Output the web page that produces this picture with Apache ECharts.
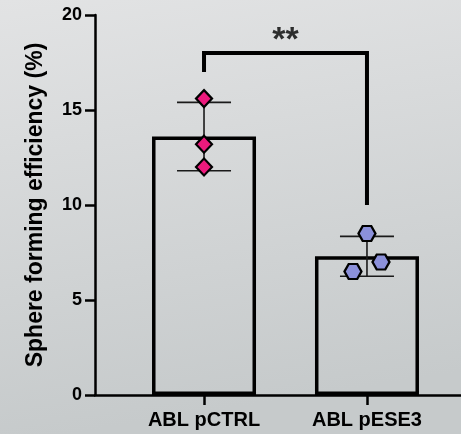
<!DOCTYPE html>
<html>
<head>
<meta charset="utf-8">
<script src="https://cdn.jsdelivr.net/npm/echarts@6/dist/echarts.min.js"></script>
<style>
  html, body { margin: 0; padding: 0; }
  #chart { width: 461px; height: 434px; }
</style>
</head>
<body>
<div id="chart"></div>
<script>
// ---- data ----
const categories = ['ABL pCTRL', 'ABL pESE3'];
const barMeans = [13.6, 7.3];
const barSD = [1.8, 1.05];
const pointsCTRL = [15.6, 13.2, 12.0];
const pointsESE3 = [8.5, 7.0, 6.5];
const yTicks = [0, 5, 10, 15, 20];
const sigLabel = '**';
const sigBracketY = 18;      // top of bracket (data units)
const sigLeftEnd = 17;       // left leg end
const sigRightEnd = 10;      // right leg end

// ---- build ----
const FONT = 'Liberation Sans, Arial, sans-serif';
const jitterESE3 = [0, 0.086, -0.086];

const chart = echarts.init(document.getElementById('chart'), null, { renderer: 'canvas' });

const hexPath = 'path://M0,50 L25,6 L75,6 L100,50 L75,94 L25,94 Z';

const option = {
  backgroundColor: {
    type: 'linear', x: 0, y: 0, x2: 0.15, y2: 1,
    colorStops: [
      { offset: 0, color: '#e2e3e4' },
      { offset: 1, color: '#c6cacb' }
    ]
  },
  animation: false,
  grid: { left: 95, right: 0, top: 15, bottom: 39, containLabel: false },
  xAxis: {
    type: 'value',
    min: -0.669,
    max: 1.577,
    splitLine: { show: false },
    axisLine: { show: true, onZero: false, lineStyle: { color: '#000', width: 2.5 } },
    axisTick: { show: true, customValues: [0, 1], length: 10, lineStyle: { color: '#000', width: 2.5 } },
    axisLabel: {
      show: true,
      customValues: [0, 1],
      formatter: v => categories[Math.round(v)],
      color: '#000', fontWeight: 'bold', fontSize: 20, fontFamily: FONT, margin: 15
    }
  },
  yAxis: {
    type: 'value',
    min: yTicks[0],
    max: yTicks[yTicks.length - 1],
    interval: 5,
    splitLine: { show: false },
    axisLine: { show: true, onZero: false, lineStyle: { color: '#000', width: 2.5 } },
    axisTick: { show: true, length: 10, lineStyle: { color: '#000', width: 2.5 } },
    axisLabel: { color: '#000', fontWeight: 'bold', fontSize: 18, fontFamily: FONT, margin: 13 },
    name: 'Sphere forming efficiency (%)',
    nameLocation: 'middle',
    nameGap: 48,
    nameTextStyle: { color: '#000', fontWeight: 'bold', fontSize: 23, fontFamily: FONT }
  },
  series: [
    {
      type: 'bar',
      data: barMeans.map((m, i) => [i, m]),
      barWidth: 104,
      itemStyle: { color: 'rgba(0,0,0,0)', borderColor: '#000', borderWidth: 3.5 },
      z: 2
    },
    {
      type: 'custom',
      data: barMeans.map((m, i) => [i, m, barSD[i]]),
      renderItem: function (params, api) {
        const x = api.value(0), m = api.value(1), sd = api.value(2);
        const top = api.coord([x, m + sd]);
        const bot = api.coord([x, m - sd]);
        const hw = 27;
        const style = { stroke: '#1a1a1a', lineWidth: 1.6 };
        return {
          type: 'group',
          children: [
            { type: 'line', shape: { x1: top[0], y1: top[1], x2: bot[0], y2: bot[1] }, style },
            { type: 'line', shape: { x1: top[0] - hw, y1: top[1], x2: top[0] + hw, y2: top[1] }, style },
            { type: 'line', shape: { x1: bot[0] - hw, y1: bot[1], x2: bot[0] + hw, y2: bot[1] }, style }
          ]
        };
      },
      z: 3
    },
    {
      type: 'scatter',
      data: pointsCTRL.map(v => [0, v]),
      symbol: 'diamond',
      symbolSize: [16, 17],
      itemStyle: { color: '#ec1a7d', borderColor: '#000', borderWidth: 2.2, opacity: 1 },
      z: 4
    },
    {
      type: 'scatter',
      data: pointsESE3.map((v, i) => [1 + jitterESE3[i], v]),
      symbol: hexPath,
      symbolSize: [17, 15],
      itemStyle: { color: '#8b90da', borderColor: '#000', borderWidth: 2.2, opacity: 1 },
      z: 4
    },
    {
      type: 'line',
      data: [[0, sigLeftEnd], [0, sigBracketY], [1, sigBracketY], [1, sigRightEnd]],
      symbol: 'none',
      lineStyle: { color: '#000', width: 4, join: 'miter', cap: 'butt' },
      z: 5
    },
    {
      type: 'scatter',
      data: [[0.5, sigBracketY]],
      symbolSize: 0,
      label: {
        show: true, position: 'top', distance: -5,
        formatter: sigLabel,
        color: '#000', fontWeight: 'bold', fontSize: 34, fontFamily: FONT
      },
      z: 5
    }
  ]
};
chart.setOption(option);
</script>
</body>
</html>
